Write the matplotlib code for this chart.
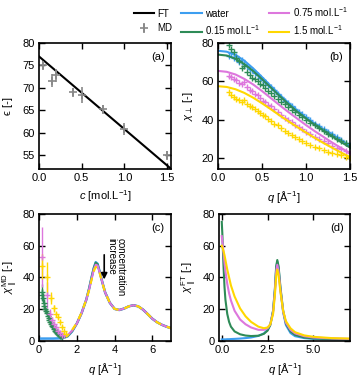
import matplotlib
matplotlib.use("Agg")
import matplotlib.pyplot as plt

plt.rcParams['font.family'] = ['Liberation Sans', 'DejaVu Sans']
plt.rcParams['mathtext.fontset'] = 'custom'
plt.rcParams['mathtext.rm'] = 'Liberation Sans'
plt.rcParams['mathtext.it'] = 'Liberation Sans:italic'
plt.rcParams['font.size'] = 8

# colours
c_water = '#3d9ef0'
c_015 = '#2e8b57'
c_075 = '#dd77dd'
c_15 = '#ffd700'
c_md = '#888888'

# (a) permittivity vs concentration
c_md_a = [0.05, 0.15, 0.2, 0.4, 0.5, 0.75, 1.0, 1.5]
eps_md = [75.0, 71.6, 72.8, 69.0, 68.5, 65.2, 60.8, 55.0]
eps_err = [1.0, 1.5, 1.5, 1.0, 1.8, 1.0, 1.3, 1.0]
c_ft = [0.0, 1.55]
eps_ft = [77.0, 51.9]

# (b) perpendicular susceptibility
q_b = [0.0, 0.1, 0.2, 0.3, 0.4, 0.5, 0.6, 0.7, 0.8, 0.9, 1.0, 1.1, 1.2, 1.3, 1.4, 1.5]
b_ft_water = [76.0, 75.5, 73.8, 70.8, 66.8, 62.3, 57.6, 53.0, 48.8, 44.8, 41.2, 38.0, 35.0, 32.3, 29.3, 26.3]
b_ft_015 = [74.0, 73.5, 71.8, 69.0, 65.4, 61.2, 56.8, 52.4, 48.2, 44.2, 40.6, 37.3, 34.2, 31.2, 28.3, 25.5]
b_ft_075 = [65.5, 65.0, 63.6, 61.3, 58.4, 55.0, 51.3, 47.6, 44.0, 40.6, 37.2, 34.0, 31.0, 28.0, 25.2, 22.5]
b_ft_15 = [57.5, 57.1, 55.9, 54.0, 51.5, 48.6, 45.5, 42.3, 39.2, 36.2, 33.3, 30.5, 27.8, 25.3, 22.8, 20.5]

q_md_b = [0.13, 0.15, 0.18, 0.21, 0.24, 0.27, 0.30, 0.33, 0.36, 0.39, 0.42, 0.45, 0.48,
          0.51, 0.54, 0.57, 0.60, 0.64, 0.68, 0.72, 0.76, 0.80, 0.84, 0.88, 0.92, 0.96,
          1.00, 1.05, 1.10, 1.15, 1.20, 1.25, 1.30, 1.35, 1.40, 1.45, 1.50]
b_md_water = [73.5, 75.0, 72.0, 73.5, 70.0, 71.2, 69.0, 68.2, 66.5, 66.0, 64.2, 63.5, 62.0,
              60.5, 59.8, 58.0, 57.2, 55.5, 53.4, 52.0, 50.0, 48.6, 47.2, 45.4, 44.0, 42.8,
              41.5, 39.8, 38.0, 36.8, 35.2, 33.8, 32.4, 31.0, 29.6, 28.0, 26.8]
b_md_015 = [79.0, 77.0, 75.5, 72.0, 70.5, 67.0, 68.0, 65.0, 63.5, 62.0, 61.5, 60.0, 58.5,
            58.0, 56.5, 55.0, 54.0, 52.5, 51.0, 49.5, 48.0, 46.5, 45.2, 44.0, 42.6, 41.5,
            40.0, 38.5, 37.0, 35.6, 34.2, 32.8, 31.5, 30.2, 29.0, 27.6, 26.3]
b_md_075 = [63.0, 62.5, 61.0, 60.5, 59.0, 58.5, 59.5, 57.0, 55.5, 55.0, 53.5, 53.0, 51.5,
            50.0, 49.5, 47.8, 47.0, 45.5, 44.0, 42.5, 41.0, 39.8, 38.6, 37.2, 36.0, 35.0,
            33.8, 32.5, 31.2, 30.0, 28.8, 27.6, 26.5, 25.5, 24.5, 23.5, 22.5]
b_md_15 = [54.5, 53.0, 52.0, 51.0, 50.5, 49.5, 50.5, 48.0, 47.0, 46.5, 45.5, 44.5, 43.5,
           42.5, 41.8, 40.5, 39.5, 38.0, 37.0, 35.5, 34.2, 33.2, 32.0, 31.0, 30.0, 29.0,
           28.0, 27.0, 26.0, 25.0, 24.2, 23.4, 22.6, 22.0, 21.4, 20.8, 20.2]

# (c) parallel susceptibility, MD
q_c = [1.25, 1.5, 1.75, 2.0, 2.25, 2.5, 2.65, 2.8, 2.9, 3.0, 3.1, 3.2, 3.35, 3.5,
       3.75, 4.0, 4.25, 4.5, 4.75, 5.0, 5.25, 5.5, 5.75, 6.0, 6.25, 6.5, 6.75, 7.0]
q_c_water = [0.1, 0.3, 0.5, 0.75, 1.0] + q_c
c_water_line = [1.5, 1.5, 1.5, 1.5, 1.6,
                1.8, 2.8, 6.0, 11.0, 17.5, 26.0, 33.0, 41.0, 46.0, 49.6, 48.6, 44.0, 37.0, 30.5,
                24.0, 20.2, 19.5, 20.4, 21.8, 22.5, 21.8, 19.8, 17.0, 14.0, 11.8, 10.2, 9.0, 8.0]
c_015_line = [2.4, 3.0, 6.2, 11.0, 17.5, 26.0, 33.0, 41.0, 46.0, 49.3, 48.3, 44.0, 37.0, 30.5,
              24.0, 20.2, 19.5, 20.4, 21.8, 22.5, 21.8, 19.8, 17.0, 14.0, 11.8, 10.2, 9.0, 8.0]
c_075_line = [3.2, 3.5, 6.5, 11.0, 17.5, 26.0, 32.5, 40.0, 45.0, 48.0, 47.5, 43.5, 37.0, 30.5,
              24.0, 20.2, 19.5, 20.4, 21.8, 22.5, 21.8, 19.8, 17.0, 14.0, 11.8, 10.2, 9.0, 8.0]
c_15_line = [4.0, 3.2, 7.0, 11.5, 18.0, 26.0, 32.0, 39.5, 44.0, 46.5, 46.5, 43.0, 36.5, 30.5,
             24.0, 20.2, 19.5, 20.4, 21.8, 22.5, 21.8, 19.8, 17.0, 14.0, 11.8, 10.2, 9.0, 8.0]

q_pts_015 = [0.13, 0.16, 0.2, 0.24, 0.28, 0.32, 0.36, 0.4, 0.45, 0.5, 0.55, 0.6, 0.65, 0.7,
             0.75, 0.8, 0.85, 0.9, 0.95, 1.0, 1.05, 1.1, 1.15, 1.2]
pts_015 = [31, 29, 27, 24, 22, 20, 19, 17.5, 16, 14.5, 13, 12, 10.5, 9.5, 8.5, 7.5, 6.5, 5.8,
           5.0, 4.4, 3.8, 3.3, 3.0, 2.7]
err_015 = [5, 4, 3, 2.5, 2, 1.5, 1.5, 1, 1, 1, 0.8, 0.8, 0.6, 0.6, 0.5, 0.5, 0.4, 0.4, 0.4,
           0.3, 0.3, 0.3, 0.3, 0.3]
q_pts_075 = [0.14, 0.42, 0.56, 0.7, 0.8, 0.9, 1.0, 1.1, 1.2, 1.3]
pts_075 = [53, 29, 17, 13, 10.5, 8.5, 6.5, 5.0, 4.0, 3.5]
err_075 = [19, 8, 3, 2, 1.5, 1, 1, 0.8, 0.5, 0.5]
q_pts_15 = [0.14, 0.42, 0.62, 0.78, 0.9, 1.0, 1.1, 1.2, 1.3, 1.4]
pts_15 = [47, 40, 27, 20.5, 17, 15, 12, 9, 6.5, 4.5]
err_15 = [8, 10, 4, 2, 1.5, 1, 1, 0.8, 0.6, 0.5]

# (d) parallel susceptibility, FT
q_d = [0.0, 0.03, 0.06, 0.1, 0.15, 0.2, 0.3, 0.4, 0.5, 0.7, 1.0, 1.3, 1.6, 2.0, 2.3, 2.5,
       2.65, 2.8, 2.9, 2.97, 3.03, 3.1, 3.2, 3.35, 3.5, 3.75, 4.0, 4.5, 5.0, 6.0, 7.0]
d_water = [1.0, 1.0, 1.0, 1.0, 1.0, 1.0, 1.1, 1.1, 1.2, 1.3, 1.5, 1.8, 2.2, 3.2, 4.8, 7.0,
           10.5, 19, 32, 46, 50, 46, 33, 18, 10, 5, 3, 1.8, 1.3, 1.0, 0.9]
d_015 = [75, 68, 58, 46, 34, 26, 17, 12, 9, 6, 4.2, 3.4, 3.1, 3.3, 4.5, 6.5,
         10, 19, 33, 47, 51, 47, 34, 19, 11, 6, 3.8, 2.2, 1.6, 1.2, 1.0]
d_075 = [66, 63, 60, 55, 49, 44, 36, 30, 25.5, 19, 13.5, 10.5, 8.5, 7, 7, 8,
         10.5, 18, 31, 44, 48, 44, 32, 18.5, 11.5, 7, 4.8, 3, 2.2, 1.6, 1.3]
d_15 = [60, 59, 58, 56.5, 54, 51, 45, 40, 35, 28, 20.5, 15.5, 12, 9, 8, 8.5,
        10.5, 17, 29, 41, 45, 41.5, 31, 19, 12.5, 8, 5.5, 3.5, 2.6, 1.8, 1.5]

fig = plt.figure(figsize=(3.62, 3.78), dpi=100)
ax_a = fig.add_axes([0.108, 0.553, 0.365, 0.333])
ax_b = fig.add_axes([0.602, 0.553, 0.365, 0.333])
ax_c = fig.add_axes([0.108, 0.098, 0.365, 0.336])
ax_d = fig.add_axes([0.605, 0.098, 0.362, 0.336])

for ax in (ax_a, ax_b, ax_c, ax_d):
    ax.tick_params(direction='in', top=True, right=True, length=4, width=1, labelsize=8, pad=3)
    for s in ax.spines.values():
        s.set_linewidth(1.2)

# (a)
ln_ft, = ax_a.plot(c_ft, eps_ft, color='k', lw=1.5, label='FT')
md = ax_a.errorbar(c_md_a, eps_md, yerr=eps_err, fmt='+', color=c_md, ms=6, mew=1.2,
                   elinewidth=1.2, capsize=0, label='MD')
ax_a.set_xlim(0, 1.55)
ax_a.set_ylim(51.9, 80)
ax_a.set_xticks([0.0, 0.5, 1.0, 1.5])
ax_a.set_yticks([55, 60, 65, 70, 75, 80])
ax_a.set_xlabel(r'$c$ [mol.L$^{-1}$]')
ax_a.set_ylabel('ϵ [-]')
ax_a.yaxis.set_label_coords(-0.2, 0.5)
ax_a.text(0.95, 0.93, '(a)', transform=ax_a.transAxes, ha='right', va='top')

# (b)
series = [('water', c_water, b_md_water, b_ft_water),
          ('0.15 mol.L$^{-1}$', c_015, b_md_015, b_ft_015),
          ('0.75 mol.L$^{-1}$', c_075, b_md_075, b_ft_075),
          ('1.5 mol.L$^{-1}$', c_15, b_md_15, b_ft_15)]
handles = []
for lab, col, md_v, ft_v in series:
    h, = ax_b.plot(q_b, ft_v, color=col, lw=1.5, label=lab)
    handles.append(h)
    ax_b.plot(q_md_b, md_v, '+', color=col, ms=5, mew=1.0)
ax_b.set_xlim(0, 1.5)
ax_b.set_ylim(14.3, 80)
ax_b.set_xticks([0.0, 0.5, 1.0, 1.5])
ax_b.set_yticks([20, 40, 60, 80])
ax_b.set_xlabel(r'$q$ [Å$^{-1}$]')
ax_b.set_ylabel(r'$\chi_\perp$ [-]')
ax_b.yaxis.set_label_coords(-0.17, 0.5)
ax_b.text(0.95, 0.93, '(b)', transform=ax_b.transAxes, ha='right', va='top')

# (c)
ax_c.plot(q_c_water, c_water_line, color=c_water, lw=1.8)
ax_c.plot(q_c, c_015_line, color=c_015, lw=1.5)
ax_c.plot(q_c, c_075_line, color=c_075, lw=1.5)
ax_c.plot(q_c, c_15_line, color=c_15, lw=1.5, dashes=(3, 3))
ax_c.errorbar(q_pts_015, pts_015, yerr=err_015, fmt='+', color=c_015, ms=5, mew=1.0,
              elinewidth=1.0, capsize=0)
ax_c.errorbar(q_pts_075, pts_075, yerr=err_075, fmt='+', color=c_075, ms=5, mew=1.0,
              elinewidth=1.0, capsize=0)
ax_c.errorbar(q_pts_15, pts_15, yerr=err_15, fmt='+', color=c_15, ms=5, mew=1.0,
              elinewidth=1.0, capsize=0)
ax_c.annotate('', xy=(3.45, 37), xytext=(3.45, 56),
              arrowprops=dict(arrowstyle='-|>', color='k', lw=1.2, mutation_scale=9))
ax_c.text(3.85, 65, 'increase', rotation=-90, ha='center', va='top', fontsize=7)
ax_c.text(4.3, 65, 'concentration', rotation=-90, ha='center', va='top', fontsize=7)
ax_c.set_xlim(0, 7)
ax_c.set_ylim(0, 80)
ax_c.set_xticks([0, 2, 4, 6])
ax_c.set_yticks([0, 20, 40, 60, 80])
ax_c.set_xlabel(r'$q$ [Å$^{-1}$]')
ax_c.set_ylabel(r'$\chi_\parallel^{\rm MD}$ [-]')
ax_c.yaxis.set_label_coords(-0.145, 0.5)
ax_c.text(0.95, 0.93, '(c)', transform=ax_c.transAxes, ha='right', va='top')

# (d)
ax_d.plot(q_d, d_water, color=c_water, lw=1.5)
ax_d.plot(q_d, d_015, color=c_015, lw=1.5)
ax_d.plot(q_d, d_075, color=c_075, lw=1.5)
ax_d.plot(q_d, d_15, color=c_15, lw=1.5)
ax_d.set_xlim(-0.15, 7)
ax_d.set_ylim(0, 80)
ax_d.set_xticks([0.0, 2.5, 5.0])
ax_d.set_yticks([0, 20, 40, 60, 80])
ax_d.set_xlabel(r'$q$ [Å$^{-1}$]')
ax_d.set_ylabel(r'$\chi_\parallel^{\rm FT}$ [-]')
ax_d.yaxis.set_label_coords(-0.15, 0.5)
ax_d.text(0.95, 0.93, '(d)', transform=ax_d.transAxes, ha='right', va='top')

fig.legend([ln_ft, md] + handles, ['FT', 'MD'] + [s[0] for s in series],
           ncol=3, loc='upper right', bbox_to_anchor=(0.985, 1.01), frameon=False,
           fontsize=7, handlelength=2.1, columnspacing=0.9, labelspacing=0.45,
           handletextpad=0.35)

fig.savefig('out.png', dpi=100)
